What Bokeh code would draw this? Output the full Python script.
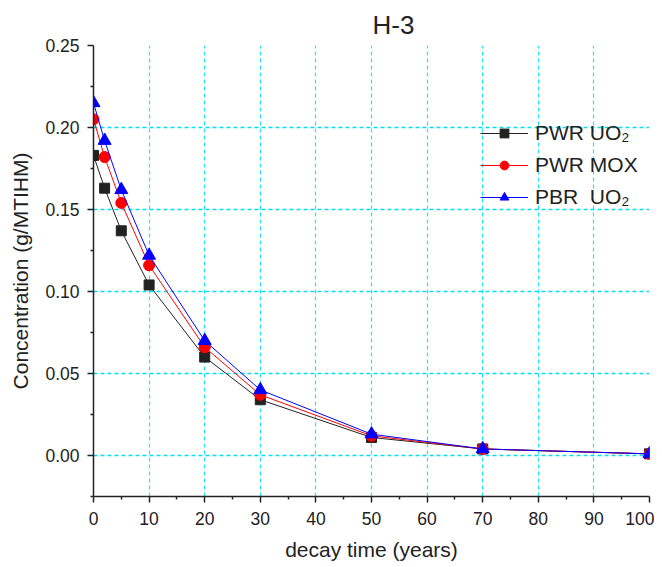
from bokeh.plotting import figure
from bokeh.models import Range1d, Legend, LegendItem, NumeralTickFormatter, FixedTicker
from bokeh.embed import file_html
from bokeh.resources import INLINE

decay_years = [0, 2, 5, 10, 20, 30, 50, 70, 100]
pwr_uo2 = [0.183, 0.163, 0.137, 0.104, 0.060, 0.034, 0.011, 0.004, 0.001]
pwr_mox = [0.205, 0.182, 0.154, 0.116, 0.066, 0.037, 0.012, 0.004, 0.001]
pbr_uo2 = [0.215, 0.192, 0.162, 0.122, 0.070, 0.040, 0.013, 0.004, 0.001]
x_ticks = [0, 10, 20, 30, 40, 50, 60, 70, 80, 90, 100]
y_ticks = [0.0, 0.05, 0.10, 0.15, 0.20, 0.25]

FONT = "Liberation Sans"

p = figure(width=654, height=564, output_backend="svg", toolbar_location=None,
           x_range=Range1d(0, 100), y_range=Range1d(-0.025, 0.25),
           min_border_left=93, min_border_right=5, min_border_top=45, min_border_bottom=68,
           title="H-3")
p.outline_line_color = None
p.background_fill_color = "white"
p.title.text_font = FONT
p.title.text_font_size = "26px"
p.title.text_font_style = "normal"
p.title.align = "left"
p.title.offset = 279
p.title.standoff = 12
p.title.text_color = "#222222"

for ax in (p.xaxis[0], p.yaxis[0]):
    ax.axis_line_width = 1.5
    ax.axis_line_color = "#222222"
    ax.major_tick_line_color = "#222222"
    ax.minor_tick_line_color = "#222222"
    ax.major_tick_line_width = 1.5
    ax.minor_tick_line_width = 1.5
    ax.major_tick_out = 6
    ax.major_tick_in = 0
    ax.minor_tick_out = 3
    ax.minor_tick_in = 0
    ax.major_label_text_font = FONT
    ax.major_label_text_font_size = "17.5px"
    ax.major_label_text_color = "#222222"
    ax.axis_label_text_font = FONT
    ax.axis_label_text_font_size = "21px"
    ax.axis_label_text_font_style = "normal"
    ax.axis_label_text_color = "#222222"

p.xaxis.major_label_standoff = 9
p.yaxis.major_label_standoff = 8
p.xaxis.axis_label_standoff = 10
p.yaxis.axis_label_standoff = 10

p.xaxis.ticker = FixedTicker(ticks=x_ticks, minor_ticks=[5 + 10 * i for i in range(10)])
p.yaxis.ticker = FixedTicker(ticks=y_ticks, minor_ticks=[-0.025, 0.025, 0.075, 0.125, 0.175, 0.225])
p.yaxis.formatter = NumeralTickFormatter(format="0.00")
p.xaxis.axis_label = "decay time (years)"
p.yaxis.axis_label = "Concentration (g/MTIHM)"

p.xgrid.grid_line_color = "#1EE8F5"
p.ygrid.grid_line_color = "#00E0F0"
p.xgrid.grid_line_dash = "4 3"
p.ygrid.grid_line_dash = "4 3"
p.xgrid.grid_line_width = 1.2
p.ygrid.grid_line_width = 1.6

l1 = p.line(decay_years, pwr_uo2, line_color="#222222", line_width=1)
m1 = p.scatter(decay_years, pwr_uo2, marker="square", size=10, fill_color="#222222", line_color="#222222")
l2 = p.line(decay_years, pwr_mox, line_color="red", line_width=1)
m2 = p.scatter(decay_years, pwr_mox, marker="circle", size=11, fill_color="red", line_color="red")
l3 = p.line(decay_years, pbr_uo2, line_color="blue", line_width=1)
m3 = p.scatter(decay_years, pbr_uo2, marker="triangle", size=13, fill_color="blue", line_color="blue")

legend = Legend(items=[
    LegendItem(label="PWR UO\u2082", renderers=[l1, m1]),
    LegendItem(label="PWR MOX", renderers=[l2, m2]),
    LegendItem(label="PBR  UO\u2082", renderers=[l3, m3]),
], location=(387, 287))
legend.border_line_color = None
legend.background_fill_alpha = 0
legend.padding = 0
legend.margin = 0
legend.spacing = 8
legend.glyph_width = 48
legend.glyph_height = 22
legend.label_height = 22
legend.label_standoff = 7
legend.label_text_font = FONT
legend.label_text_font_size = "21px"
legend.label_text_color = "#222222"
p.add_layout(legend, "center")

open("out.html", "w").write(file_html(p, INLINE))
